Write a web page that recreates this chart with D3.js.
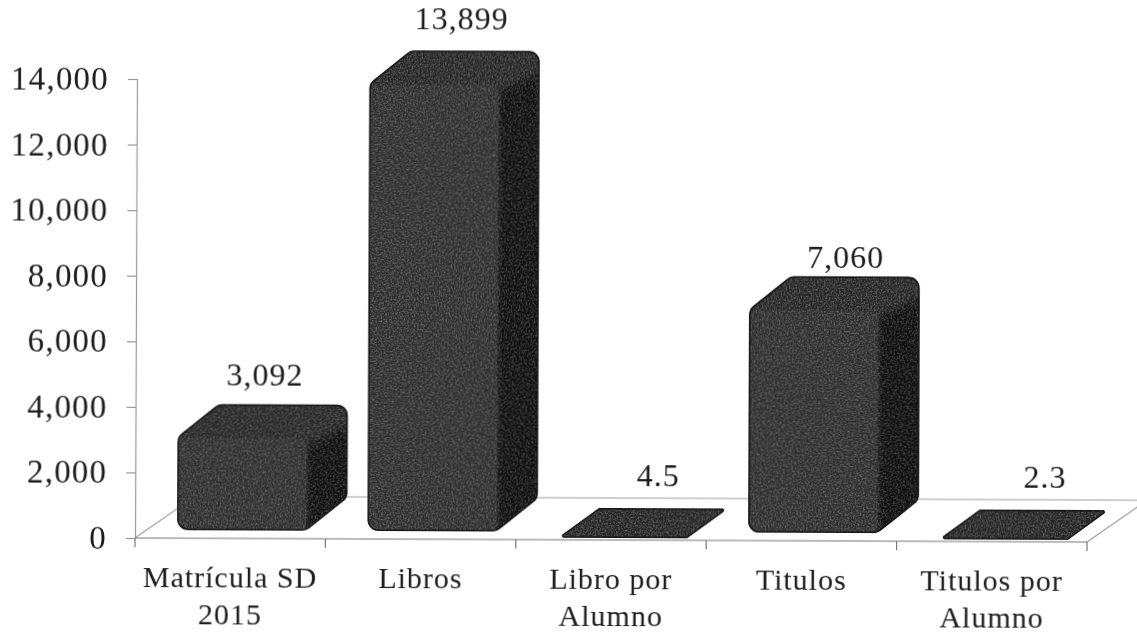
<!DOCTYPE html>
<html>
<head>
<meta charset="utf-8">
<script src="https://cdn.jsdelivr.net/npm/d3@7"></script>
<style>
  body { margin: 0; background: #fff; }
  text { font-family: "Liberation Serif", serif; fill: #1c1c1c; }
</style>
</head>
<body>
<svg id="chart" width="1137" height="635"></svg>
<script>
var categories = ["Matrícula SD 2015", "Libros", "Libro por Alumno", "Titulos", "Titulos por Alumno"];
var categoryLines = [["Matrícula SD", "2015"], ["Libros"], ["Libro por", "Alumno"], ["Titulos"], ["Titulos por", "Alumno"]];
var values = [3092, 13899, 4.5, 7060, 2.3];
var valueLabels = ["3,092", "13,899", "4.5", "7,060", "2.3"];
var yTicks = [0, 2000, 4000, 6000, 8000, 10000, 12000, 14000];

var svg = d3.select("#chart");
var defs = svg.append("defs");

// scan softness
defs.append("filter").attr("id", "soft")
  .append("feGaussianBlur").attr("stdDeviation", 0.45);
defs.append("filter").attr("id", "softer").attr("x", "-40%").attr("width", "180%")
  .attr("y", "-20%").attr("height", "140%")
  .append("feGaussianBlur").attr("stdDeviation", 3);

// photocopy grain
var grain = defs.append("filter").attr("id", "grain").attr("x", 0).attr("y", 0).attr("width", "100%").attr("height", "100%");
grain.append("feTurbulence").attr("type", "fractalNoise").attr("baseFrequency", 0.6).attr("numOctaves", 2).attr("seed", 4);
grain.append("feColorMatrix").attr("type", "matrix")
  .attr("values", "0 0 0 0 1  0 0 0 0 1  0 0 0 0 1  2.4 0 0 0 -0.95");

var x = d3.scaleBand().domain(categories).range([135, 1087]);
var y = d3.scaleLinear().domain([0, 14000]).range([538, 79]);

var depthX = 41, depthY = 33;
var floorX = 60, floorY = 42;
var barBase = y(0) - 8;

// polygon with rounded corners
function rounded(points, r) {
  var p = d3.path();
  var n = points.length;
  var a = points[n - 1], b = points[0];
  p.moveTo((a[0] + b[0]) / 2, (a[1] + b[1]) / 2);
  for (var i = 0; i < n; i++) {
    var c = points[(i + 1) % n];
    p.arcTo(points[i][0], points[i][1], c[0], c[1], r);
  }
  p.closePath();
  return p.toString();
}

var plot = svg.append("g")
  .attr("filter", "url(#soft)")
  .attr("transform", "rotate(0.24,135,538)");

// floor
var floor = plot.append("g").attr("fill", "none").attr("stroke", "#a0a0a0").attr("stroke-width", 1.2);
floor.append("path").attr("d", d3.line()([
  [x.range()[0], y(0)],
  [x.range()[0] + floorX, y(0) - floorY],
  [x.range()[1] + floorX, y(0) - floorY],
  [x.range()[1], y(0)]
]));
floor.append("line")
  .attr("x1", x.range()[0]).attr("x2", x.range()[1])
  .attr("y1", y(0)).attr("y2", y(0))
  .attr("stroke", "#777");

// y axis
var yAxis = plot.append("g")
  .attr("transform", "translate(135,0)")
  .call(d3.axisLeft(y).tickValues(yTicks).tickSize(9).tickPadding(19).tickFormat(d3.format(",")));
yAxis.selectAll("path, line").attr("stroke", "#999").attr("stroke-width", 1.2);
yAxis.selectAll("text").style("font-size", "33px").style("letter-spacing", "1.2px").attr("fill", "#1c1c1c");

// x axis ticks at the band edges, labels at band centres
var edges = categories.map(d => x(d)).concat([x.range()[1]]);
plot.selectAll(".edge").data(edges).enter().append("line")
  .attr("class", "edge")
  .attr("x1", d => d).attr("x2", d => d)
  .attr("y1", y(0)).attr("y2", y(0) + 9)
  .attr("stroke", "#777").attr("stroke-width", 1.2);

var bars = plot.selectAll(".bar").data(categories).enter().append("g").attr("class", "bar");

bars.each(function (d, i) {
  var g = d3.select(this);
  var left = x(d) + 42;
  var w = x.bandwidth() - 61;
  var top = y(values[i]);
  var outline, r;

  if (top > barBase) {
    // nearly zero: only the lid is left
    var front = barBase + 6;
    outline = [[left, front], [left + depthX, front - 30], [left + w + depthX, front - 30], [left + w, front]];
    r = 2;
  } else {
    outline = [
      [left, top],
      [left + depthX, top - depthY],
      [left + w + depthX, top - depthY],
      [left + w + depthX, barBase - depthY],
      [left + w, barBase],
      [left, barBase]
    ];
    r = 11;
  }

  defs.append("clipPath").attr("id", "barClip" + i)
    .append("path").attr("d", rounded(outline, r));
  var inner = g.append("g").attr("clip-path", "url(#barClip" + i + ")");

  inner.append("path").attr("d", rounded(outline, r)).attr("fill", "#262626");

  if (top <= barBase) {
    // side face
    inner.append("path")
      .attr("d", d3.line()([
        [left + w, top + 10],
        [left + w + depthX, top - depthY + 22],
        [left + w + depthX + 8, barBase],
        [left + w, barBase + 4]
      ]) + "Z")
      .attr("fill", "#070707")
      .attr("filter", "url(#softer)");

    // front face
    inner.append("rect")
      .attr("x", left).attr("y", top + 1)
      .attr("width", w).attr("height", barBase - top)
      .attr("rx", 8)
      .attr("fill", "#2e2e2e");
  }

  inner.append("rect")
    .attr("x", left - 2).attr("y", Math.min(top, barBase) - depthY - 2)
    .attr("width", w + depthX + 4).attr("height", Math.abs(barBase - Math.min(top, barBase)) + depthY + 12)
    .attr("fill", "#fff")
    .attr("filter", "url(#grain)")
    .attr("opacity", 0.28);

  // darker rim like the reference
  inner.append("path").attr("d", rounded(outline, r))
    .attr("fill", "none").attr("stroke", "#151515").attr("stroke-width", 3);
});

// value labels sit above the back edge of each bar
var labelShift = [34, 39, 47, 43, 53];
var labelGap = [19, 21, 22, 9, 22];
plot.selectAll(".value").data(categories).enter().append("text")
  .attr("class", "value")
  .attr("text-anchor", "middle")
  .style("font-size", "32px")
  .style("letter-spacing", "1px")
  .attr("x", (d, i) => x(d) + x.bandwidth() / 2 + labelShift[i])
  .attr("y", (d, i) => {
    var flat = y(values[i]) > barBase;
    var back = flat ? barBase + 6 - 30 : y(values[i]) - depthY;
    return back - labelGap[i];
  })
  .text((d, i) => valueLabels[i]);

var labels = plot.selectAll(".cat").data(categories).enter().append("text")
  .attr("class", "cat")
  .attr("text-anchor", "middle")
  .style("font-size", "30px")
  .style("letter-spacing", "1px")
  .attr("x", d => x(d) + x.bandwidth() / 2)
  .attr("y", y(0) + 49);

labels.selectAll("tspan").data((d, i) => categoryLines[i]).enter().append("tspan")
  .attr("x", function () { return d3.select(this.parentNode).attr("x"); })
  .attr("dy", (d, i) => i ? 37 : 0)
  .text(d => d);
</script>
</body>
</html>
